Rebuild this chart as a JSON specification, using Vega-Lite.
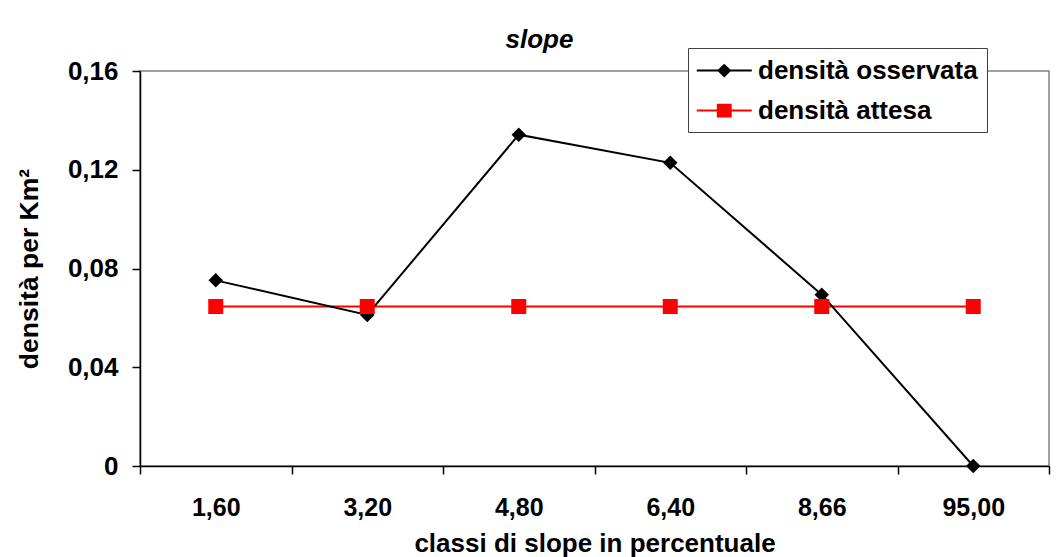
{
  "$schema": "https://vega.github.io/schema/vega-lite/v6.json",
  "width": 909,
  "height": 395,
  "autosize": {"type": "none"},
  "padding": {"left": 140, "top": 71, "right": 10, "bottom": 91},
  "background": "white",
  "title": {
    "text": "slope",
    "font": "Liberation Sans",
    "fontSize": 26,
    "fontWeight": "bold",
    "fontStyle": "italic",
    "color": "black",
    "anchor": "middle",
    "frame": "group",
    "dx": -55,
    "offset": -5
  },
  "data": {
    "values": [
      {"classe": "1,60", "serie": "densità osservata", "densita": 0.0752},
      {"classe": "3,20", "serie": "densità osservata", "densita": 0.0612},
      {"classe": "4,80", "serie": "densità osservata", "densita": 0.1342},
      {"classe": "6,40", "serie": "densità osservata", "densita": 0.1228},
      {"classe": "8,66", "serie": "densità osservata", "densita": 0.0694},
      {"classe": "95,00", "serie": "densità osservata", "densita": 0},
      {"classe": "1,60", "serie": "densità attesa", "densita": 0.0646},
      {"classe": "3,20", "serie": "densità attesa", "densita": 0.0646},
      {"classe": "4,80", "serie": "densità attesa", "densita": 0.0646},
      {"classe": "6,40", "serie": "densità attesa", "densita": 0.0646},
      {"classe": "8,66", "serie": "densità attesa", "densita": 0.0646},
      {"classe": "95,00", "serie": "densità attesa", "densita": 0.0646}
    ]
  },
  "encoding": {
    "x": {
      "field": "classe",
      "type": "ordinal",
      "sort": ["1,60", "3,20", "4,80", "6,40", "8,66", "95,00"],
      "scale": {"type": "band", "paddingInner": 0, "paddingOuter": 0},
      "axis": {
        "title": "classi di slope in percentuale",
        "labelAngle": 0,
        "labelFontSize": 25,
        "labelBaseline": "alphabetic",
        "tickBand": "extent",
        "tickSize": 8,
        "labelPadding": 41,
        "titleX": 454.5,
        "titleY": 85,
        "titleBaseline": "alphabetic",
        "titleAlign": "center",
        "titleFontSize": 26
      }
    },
    "y": {
      "field": "densita",
      "type": "quantitative",
      "scale": {"domain": [0, 0.16], "nice": false},
      "axis": {
        "title": "densità per Km²",
        "values": [0, 0.04, 0.08, 0.12, 0.16],
        "labelExpr": "datum.value == 0 ? '0' : replace(format(datum.value, '.2f'), '.', ',')",
        "labelFontSize": 26,
        "grid": false,
        "tickSize": 8,
        "labelPadding": 14,
        "titleX": -103,
        "titleY": 197.5,
        "titleAngle": -90,
        "titleBaseline": "alphabetic",
        "titleAlign": "center",
        "titleFontSize": 26.5
      }
    }
  },
  "layer": [
    {
      "transform": [{"filter": "datum.serie === 'densità attesa'"}],
      "mark": {"type": "line", "color": "#FF0000", "strokeWidth": 2}
    },
    {
      "transform": [{"filter": "datum.serie === 'densità osservata'"}],
      "mark": {"type": "line", "color": "black", "strokeWidth": 2}
    },
    {
      "transform": [{"filter": "datum.serie === 'densità osservata'"}],
      "mark": {"type": "point", "shape": "diamond", "filled": true, "color": "black", "size": 210, "opacity": 1}
    },
    {
      "transform": [{"filter": "datum.serie === 'densità attesa'"}],
      "mark": {"type": "point", "shape": "square", "filled": true, "color": "#FF0000", "size": 225, "opacity": 1}
    },
    {
      "mark": {"type": "point", "filled": true, "opacity": 0},
      "encoding": {
        "color": {
          "field": "serie",
          "type": "nominal",
          "scale": {"domain": ["densità osservata", "densità attesa"], "range": ["black", "#FF0000"]},
          "legend": {
            "orient": "none",
            "legendX": 548,
            "legendY": -23,
            "title": null,
            "strokeColor": "#404040",
            "fillColor": "white",
            "padding": 8.5,
            "symbolSize": 756.25,
            "symbolStrokeWidth": 0,
            "symbolOpacity": 1,
            "labelFont": "Liberation Sans",
            "labelFontSize": 26,
            "labelFontWeight": "bold",
            "labelColor": "black",
            "labelLimit": 0,
            "labelOffset": 33.5,
            "labelExpr": "datum.label + '\u00a0\u00a0\u00a0'",
            "rowPadding": 13
          }
        },
        "shape": {
          "field": "serie",
          "type": "nominal",
          "scale": {
            "domain": ["densità osservata", "densità attesa"],
            "range": [
              "M-1,-0.075H3V0.075H-1Z M1,-0.5L1.52,0L1,0.5L0.48,0Z",
              "M-1,-0.075H3V0.075H-1Z M0.46,-0.5H1.54V0.5H0.46Z"
            ]
          },
          "legend": {
            "orient": "none",
            "legendX": 548,
            "legendY": -23,
            "title": null,
            "strokeColor": "#404040",
            "fillColor": "white",
            "padding": 8.5,
            "symbolSize": 756.25,
            "symbolStrokeWidth": 0,
            "symbolOpacity": 1,
            "labelFont": "Liberation Sans",
            "labelFontSize": 26,
            "labelFontWeight": "bold",
            "labelColor": "black",
            "labelLimit": 0,
            "labelOffset": 33.5,
            "labelExpr": "datum.label + '\u00a0\u00a0\u00a0'",
            "rowPadding": 13
          }
        }
      }
    }
  ],
  "config": {
    "view": {"stroke": "#808080", "strokeWidth": 1.5},
    "axis": {
      "labelFont": "Liberation Sans",
      "labelFontWeight": "bold",
      "labelColor": "black",
      "titleFont": "Liberation Sans",
      "titleFontWeight": "bold",
      "titleColor": "black",
      "domainColor": "black",
      "domainWidth": 1.5,
      "tickColor": "black",
      "tickWidth": 1.5
    }
  }
}
